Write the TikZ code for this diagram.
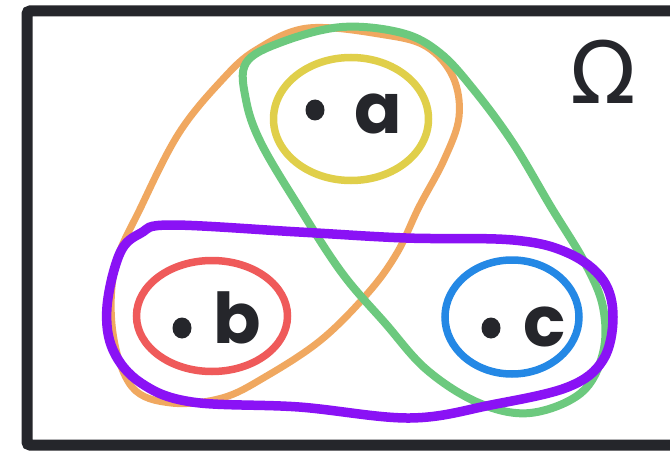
\documentclass[tikz,border=0pt]{standalone}
\usepackage{fontspec}
\usetikzlibrary{shapes.geometric}
\newfontfamily\handfont{Poppins}
\newfontfamily\symfont{DejaVu Sans}
\definecolor{boxgray}{HTML}{25262B}
\definecolor{setyellow}{HTML}{E0CF4A}
\definecolor{setred}{HTML}{EF5A5A}
\definecolor{setblue}{HTML}{2488E5}
\definecolor{setpurple}{HTML}{8A12F5}
\definecolor{setorange}{HTML}{F0A860}
\definecolor{setgreen}{HTML}{6CC97E}
\begin{document}
\begin{tikzpicture}[x=1pt,y=-1pt,
  ring/.style={draw,ellipse,line width=7.5pt,inner sep=0pt},
  loop/.style={line width=7pt,line cap=round,line join=round},
  dot/.style={ellipse,fill=boxgray,inner sep=0pt,minimum width=19pt,minimum height=21pt},
  letter/.style={text=boxgray,inner sep=0pt,font=\handfont\bfseries\fontsize{70}{70}\selectfont}]
\useasboundingbox (0,0) rectangle (670,452);
\clip (0,0) rectangle (670,452);
\fill[white] (0,0) rectangle (670,452);
% universe
\draw[boxgray,line width=11pt,rounded corners=3pt] (27,11) rectangle (720,445);
\node[text=boxgray,inner sep=0pt,font=\symfont\fontsize{86}{86}\selectfont] (omega) at (603,72) {Ω};
% the two big loops
\draw[loop,setorange] plot[smooth cycle,tension=0.6] coordinates {
  (308,28) (385,35) (427,47) (453,77) (459,117) (444,160) (419,207)
  (397,253) (368,293) (321,340) (265,377) (222,398) (171,403) (132,387)
  (113,333) (115,267) (141,207) (179,133) (222,80) (256,50)};
\draw[loop,setgreen,line width=8pt] plot[smooth cycle,tension=0.6] coordinates {
  (342,27) (402,33) (440,53) (474,90) (513,143) (551,207) (585,263)
  (603,307) (603,353) (581,393) (530,413) (479,403) (427,370) (385,323)
  (342,273) (299,207) (261,143) (246,100) (246,63) (282,42)};
\draw[loop,setpurple,line width=9.5pt] plot[smooth cycle,tension=0.6] coordinates {
  (171,225) (299,232) (406,238) (513,240) (568,253) (603,280) (613,317)
  (603,360) (568,387) (491,405) (410,418) (299,407) (192,402) (141,383)
  (113,350) (107,307) (120,253) (141,233)};
% singletons
\node[ring,setyellow,minimum width=155pt,minimum height=123pt] (ringa) at (351,119) {};
\node[ring,setred,minimum width=151pt,minimum height=111pt] (ringb) at (212,316) {};
\node[ring,setblue,minimum width=134pt,minimum height=114pt] (ringc) at (512,317) {};
\node[dot] (dota) at (315,110) {};
\node[dot] (dotb) at (182,328) {};
\node[dot] (dotc) at (491,328) {};
\node[letter] (laba) at (378,114) {a};
\node[letter] (labb) at (237,318) {b};
\node[letter] (labc) at (545,327) {c};
\end{tikzpicture}
\end{document}
